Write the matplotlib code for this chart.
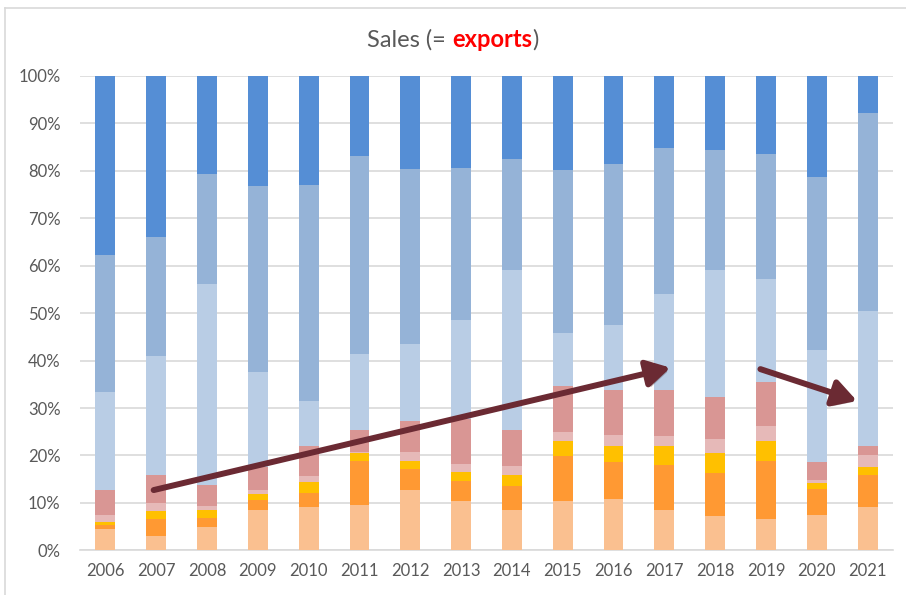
import matplotlib
matplotlib.use('Agg')
import matplotlib.pyplot as plt
import matplotlib.patheffects as pe
from matplotlib.lines import Line2D
import numpy as np

plt.rcParams['font.family'] = ['Lato', 'DejaVu Sans']

years = ['2006', '2007', '2008', '2009', '2010', '2011', '2012', '2013',
         '2014', '2015', '2016', '2017', '2018', '2019', '2020', '2021']

# shares per series in %, bottom to top
peach   = [4.4, 3.1, 4.9, 8.6, 9.1, 9.5, 12.7, 10.4, 8.5, 10.5, 10.8, 8.6, 7.3, 6.5, 7.4, 9.2]
orange  = [0.9, 3.4, 2.0, 2.1, 2.9, 9.3, 4.4, 4.2, 5.1, 9.3, 7.9, 9.3, 9.0, 12.3, 5.5, 6.6]
yellow  = [0.6, 1.7, 1.6, 1.1, 2.3, 1.7, 1.7, 1.9, 2.2, 3.2, 3.3, 4.1, 4.2, 4.2, 1.2, 1.7]
lpink   = [1.5, 1.7, 0.9, 0.9, 1.3, 0.3, 1.9, 1.6, 1.9, 1.9, 2.3, 2.1, 2.9, 3.2, 0.7, 2.5]
rose    = [5.3, 5.9, 4.3, 4.9, 6.4, 4.5, 6.6, 9.5, 7.7, 9.7, 9.5, 9.7, 8.9, 9.3, 3.9, 1.9]
lblue   = [20.6, 25.1, 42.5, 19.9, 9.5, 16.1, 16.2, 21.0, 33.6, 11.3, 13.8, 20.3, 26.9, 21.8, 23.6, 28.6]
medblue = [28.9, 25.2, 23.1, 39.4, 45.6, 41.7, 36.8, 31.9, 23.6, 34.2, 33.8, 30.7, 25.3, 26.2, 36.3, 41.6]
blue    = [37.8, 33.9, 20.7, 23.1, 22.9, 16.9, 19.7, 19.5, 17.4, 19.9, 18.6, 15.2, 15.5, 16.5, 21.4, 7.9]

series = [peach, orange, yellow, lpink, rose, lblue, medblue, blue]
colors = ['#FAC090', '#FF9933', '#FFC000', '#E6B9B8', '#D99694',
          '#B9CDE5', '#95B3D7', '#558ED5']

fig = plt.figure(figsize=(9.06, 5.95), dpi=100)
ax = fig.add_axes([0.0883, 0.0751, 0.8974, 0.7972])

x = np.arange(len(years))
bottom = np.zeros(len(years))
for vals, col in zip(series, colors):
    v = np.array(vals)
    ax.bar(x, v, 0.39, bottom=bottom, color=col, linewidth=0, zorder=3)
    bottom += v

ax.set_xlim(-0.5, len(years) - 0.5)
ax.set_ylim(0, 100)
ax.set_yticks(np.arange(0, 101, 10))
ax.set_yticklabels([f'{t}%' for t in range(0, 101, 10)])
ax.set_xticks(x)
ax.set_xticklabels(years)
ax.tick_params(length=0, labelsize=12, colors='#595959')
ax.tick_params(axis='y', pad=14)
ax.tick_params(axis='x', pad=9)
ax.grid(axis='y', color='#D9D9D9', linewidth=1.2, zorder=0)
for s in ['left', 'right', 'top']:
    ax.spines[s].set_visible(False)
ax.spines['bottom'].set_color('#D9D9D9')
ax.spines['bottom'].set_linewidth(1.2)

# trend arrows
arrow_col = '#6B2A33'
shadow = [pe.SimplePatchShadow(offset=(2, -2), alpha=0.25), pe.Normal()]
for (x0, y0), (x1, y1) in [((0.95, 12.7), (11.12, 38.5)), ((12.89, 38.2), (14.79, 31.5))]:
    a = ax.annotate('', xy=(x1, y1), xytext=(x0, y0),
                    arrowprops=dict(arrowstyle='-|>,head_length=0.7,head_width=0.4',
                                    color=arrow_col, lw=4.3, mutation_scale=20,
                                    shrinkA=0, shrinkB=0), zorder=10)
    a.arrow_patch.set_path_effects(shadow)

# title with coloured word
renderer = fig.canvas.get_renderer()
parts = [('Sales (= ', '#595959', 'normal'), ('exports', '#FF0000', 'bold'), (')', '#595959', 'normal')]
texts = [fig.text(0, 0.933, p, color=c, fontweight=w, fontsize=17, va='center') for p, c, w in parts]
widths = [t.get_window_extent(renderer).width for t in texts]
xpos = (906 - sum(widths)) / 2
for t, w in zip(texts, widths):
    t.set_x(xpos / 906)
    xpos += w

# outer chart frame
fig.add_artist(Line2D([5 / 906, 1], [1 - 8 / 595, 1 - 8 / 595], transform=fig.transFigure,
                      color='#D9D9D9', linewidth=1.2))
fig.add_artist(Line2D([5 / 906, 5 / 906], [0, 1 - 8 / 595], transform=fig.transFigure,
                      color='#D9D9D9', linewidth=1.2))

fig.savefig('out.png', dpi=100)
